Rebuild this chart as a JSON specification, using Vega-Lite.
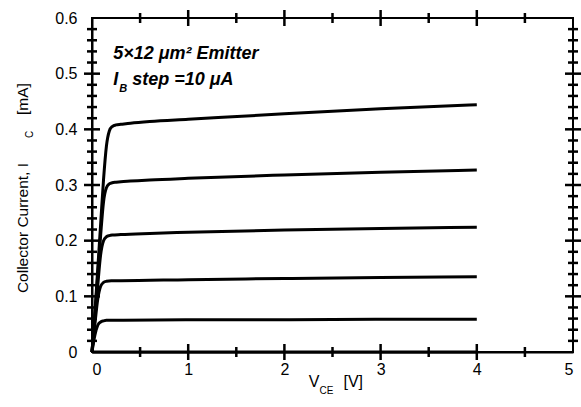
{
  "$schema": "https://vega.github.io/schema/vega-lite/v6.json",
  "width": 481,
  "height": 334,
  "autosize": "none",
  "padding": {"left": 92, "top": 18, "right": 8, "bottom": 55},
  "background": "white",
  "config": {
    "view": {"stroke": "black", "strokeWidth": 2},
    "font": "Liberation Sans",
    "axis": {
      "domainColor": "black",
      "domainWidth": 2,
      "ticks": false,
      "grid": false,
      "labelOverlap": false,
      "labelColor": "black",
      "labelFont": "Liberation Sans",
      "labelFontSize": 16,
      "title": null
    }
  },
  "datasets": {
    "curves": [
      {"ib": 0, "v": 0, "i": 0}, {"ib": 0, "v": 4, "i": 0},
      {"ib": 10, "v": 0, "i": 0}, {"ib": 10, "v": 0.03, "i": 0.03}, {"ib": 10, "v": 0.06, "i": 0.048}, {"ib": 10, "v": 0.09, "i": 0.054}, {"ib": 10, "v": 0.12, "i": 0.056}, {"ib": 10, "v": 0.15, "i": 0.057}, {"ib": 10, "v": 0.3, "i": 0.057}, {"ib": 10, "v": 1, "i": 0.058}, {"ib": 10, "v": 2, "i": 0.058}, {"ib": 10, "v": 3, "i": 0.059}, {"ib": 10, "v": 4, "i": 0.059},
      {"ib": 20, "v": 0, "i": 0}, {"ib": 20, "v": 0.03, "i": 0.05}, {"ib": 20, "v": 0.06, "i": 0.095}, {"ib": 20, "v": 0.09, "i": 0.118}, {"ib": 20, "v": 0.12, "i": 0.125}, {"ib": 20, "v": 0.15, "i": 0.127}, {"ib": 20, "v": 0.2, "i": 0.128}, {"ib": 20, "v": 0.3, "i": 0.128}, {"ib": 20, "v": 1, "i": 0.13}, {"ib": 20, "v": 2, "i": 0.132}, {"ib": 20, "v": 3, "i": 0.134}, {"ib": 20, "v": 4, "i": 0.135},
      {"ib": 30, "v": 0, "i": 0}, {"ib": 30, "v": 0.03, "i": 0.06}, {"ib": 30, "v": 0.06, "i": 0.12}, {"ib": 30, "v": 0.09, "i": 0.175}, {"ib": 30, "v": 0.12, "i": 0.2}, {"ib": 30, "v": 0.15, "i": 0.207}, {"ib": 30, "v": 0.18, "i": 0.209}, {"ib": 30, "v": 0.21, "i": 0.21}, {"ib": 30, "v": 0.3, "i": 0.211}, {"ib": 30, "v": 0.6, "i": 0.213}, {"ib": 30, "v": 1, "i": 0.215}, {"ib": 30, "v": 2, "i": 0.219}, {"ib": 30, "v": 3, "i": 0.222}, {"ib": 30, "v": 4, "i": 0.224},
      {"ib": 40, "v": 0, "i": 0}, {"ib": 40, "v": 0.03, "i": 0.065}, {"ib": 40, "v": 0.06, "i": 0.14}, {"ib": 40, "v": 0.09, "i": 0.21}, {"ib": 40, "v": 0.12, "i": 0.27}, {"ib": 40, "v": 0.15, "i": 0.295}, {"ib": 40, "v": 0.18, "i": 0.302}, {"ib": 40, "v": 0.21, "i": 0.304}, {"ib": 40, "v": 0.25, "i": 0.305}, {"ib": 40, "v": 0.3, "i": 0.306}, {"ib": 40, "v": 0.4, "i": 0.307}, {"ib": 40, "v": 0.6, "i": 0.309}, {"ib": 40, "v": 1, "i": 0.312}, {"ib": 40, "v": 2, "i": 0.318}, {"ib": 40, "v": 3, "i": 0.323}, {"ib": 40, "v": 4, "i": 0.327},
      {"ib": 50, "v": 0, "i": 0}, {"ib": 50, "v": 0.03, "i": 0.07}, {"ib": 50, "v": 0.06, "i": 0.15}, {"ib": 50, "v": 0.09, "i": 0.23}, {"ib": 50, "v": 0.12, "i": 0.31}, {"ib": 50, "v": 0.15, "i": 0.37}, {"ib": 50, "v": 0.18, "i": 0.397}, {"ib": 50, "v": 0.21, "i": 0.405}, {"ib": 50, "v": 0.25, "i": 0.408}, {"ib": 50, "v": 0.3, "i": 0.409}, {"ib": 50, "v": 0.4, "i": 0.411}, {"ib": 50, "v": 0.6, "i": 0.414}, {"ib": 50, "v": 1, "i": 0.418}, {"ib": 50, "v": 2, "i": 0.428}, {"ib": 50, "v": 3, "i": 0.437}, {"ib": 50, "v": 4, "i": 0.444}
    ],
    "vMajor": [{"t": 1}, {"t": 2}, {"t": 3}, {"t": 4}],
    "vMinor": [{"t": 0.5}, {"t": 1.5}, {"t": 2.5}, {"t": 3.5}, {"t": 4.5}],
    "iMajor": [{"t": 0.1}, {"t": 0.2}, {"t": 0.3}, {"t": 0.4}, {"t": 0.5}],
    "iMinor": [
      {"t": 0.02}, {"t": 0.04}, {"t": 0.06}, {"t": 0.08}, {"t": 0.12}, {"t": 0.14}, {"t": 0.16}, {"t": 0.18},
      {"t": 0.22}, {"t": 0.24}, {"t": 0.26}, {"t": 0.28}, {"t": 0.32}, {"t": 0.34}, {"t": 0.36}, {"t": 0.38},
      {"t": 0.42}, {"t": 0.44}, {"t": 0.46}, {"t": 0.48}, {"t": 0.52}, {"t": 0.54}, {"t": 0.56}, {"t": 0.58}
    ],
    "one": [{}]
  },
  "layer": [
    {
      "data": {"name": "curves"},
      "mark": {"type": "line", "color": "black", "strokeWidth": 3, "interpolate": "monotone"},
      "encoding": {
        "x": {
          "field": "v", "type": "quantitative",
          "scale": {"domain": [0, 5], "nice": false},
          "axis": {"orient": "bottom", "values": [0, 1, 2, 3, 4, 5], "format": "d", "labelPadding": 9}
        },
        "y": {
          "field": "i", "type": "quantitative",
          "scale": {"domain": [0, 0.6], "nice": false},
          "axis": {
            "orient": "left", "values": [0, 0.1, 0.2, 0.3, 0.4, 0.5, 0.6],
            "labelExpr": "datum.value == 0 ? '0' : format(datum.value, '.1f')",
            "labelPadding": 15
          }
        },
        "detail": {"field": "ib"}
      }
    },
    {
      "data": {"name": "vMajor"},
      "mark": {"type": "tick", "orient": "vertical", "color": "black", "opacity": 1, "size": 16, "thickness": 2.5},
      "encoding": {"x": {"field": "t", "type": "quantitative"}, "y": {"datum": 0, "type": "quantitative"}}
    },
    {
      "data": {"name": "vMajor"},
      "mark": {"type": "tick", "orient": "vertical", "color": "black", "opacity": 1, "size": 16, "thickness": 2.5},
      "encoding": {"x": {"field": "t", "type": "quantitative"}, "y": {"datum": 0.6, "type": "quantitative"}}
    },
    {
      "data": {"name": "vMinor"},
      "mark": {"type": "tick", "orient": "vertical", "color": "black", "opacity": 1, "size": 10, "thickness": 2.5},
      "encoding": {"x": {"field": "t", "type": "quantitative"}, "y": {"datum": 0, "type": "quantitative"}}
    },
    {
      "data": {"name": "vMinor"},
      "mark": {"type": "tick", "orient": "vertical", "color": "black", "opacity": 1, "size": 10, "thickness": 2.5},
      "encoding": {"x": {"field": "t", "type": "quantitative"}, "y": {"datum": 0.6, "type": "quantitative"}}
    },
    {
      "data": {"name": "iMajor"},
      "mark": {"type": "tick", "orient": "horizontal", "color": "black", "opacity": 1, "size": 16, "thickness": 2.5},
      "encoding": {"y": {"field": "t", "type": "quantitative"}, "x": {"datum": 0, "type": "quantitative"}}
    },
    {
      "data": {"name": "iMajor"},
      "mark": {"type": "tick", "orient": "horizontal", "color": "black", "opacity": 1, "size": 16, "thickness": 2.5},
      "encoding": {"y": {"field": "t", "type": "quantitative"}, "x": {"datum": 5, "type": "quantitative"}}
    },
    {
      "data": {"name": "iMinor"},
      "mark": {"type": "tick", "orient": "horizontal", "color": "black", "opacity": 1, "size": 10, "thickness": 2.5},
      "encoding": {"y": {"field": "t", "type": "quantitative"}, "x": {"datum": 0, "type": "quantitative"}}
    },
    {
      "data": {"name": "iMinor"},
      "mark": {"type": "tick", "orient": "horizontal", "color": "black", "opacity": 1, "size": 10, "thickness": 2.5},
      "encoding": {"y": {"field": "t", "type": "quantitative"}, "x": {"datum": 5, "type": "quantitative"}}
    },
    {
      "data": {"name": "one"},
      "mark": {"type": "text", "font": "Liberation Sans", "fontSize": 18, "fontWeight": "bold", "fontStyle": "italic", "align": "left", "baseline": "alphabetic", "color": "black"},
      "encoding": {
        "x": {"datum": 0.22, "type": "quantitative"},
        "y": {"datum": 0.526, "type": "quantitative"},
        "text": {"value": "5×12 μm² Emitter"}
      }
    },
    {
      "data": {"name": "one"},
      "mark": {"type": "text", "font": "Liberation Sans", "fontSize": 18, "fontWeight": "bold", "fontStyle": "italic", "align": "left", "baseline": "alphabetic", "color": "black"},
      "encoding": {
        "x": {"datum": 0.22, "type": "quantitative"},
        "y": {"datum": 0.48, "type": "quantitative"},
        "text": {"value": "I"}
      }
    },
    {
      "data": {"name": "one"},
      "mark": {"type": "text", "font": "Liberation Sans", "fontSize": 11, "fontWeight": "bold", "fontStyle": "italic", "align": "left", "baseline": "alphabetic", "color": "black", "dx": 6, "dy": 7},
      "encoding": {
        "x": {"datum": 0.22, "type": "quantitative"},
        "y": {"datum": 0.48, "type": "quantitative"},
        "text": {"value": "B"}
      }
    },
    {
      "data": {"name": "one"},
      "mark": {"type": "text", "font": "Liberation Sans", "fontSize": 18, "fontWeight": "bold", "fontStyle": "italic", "align": "left", "baseline": "alphabetic", "color": "black", "dx": 19},
      "encoding": {
        "x": {"datum": 0.22, "type": "quantitative"},
        "y": {"datum": 0.48, "type": "quantitative"},
        "text": {"value": "step =10 μA"}
      }
    },
    {
      "data": {"name": "one"},
      "mark": {"type": "text", "font": "Liberation Sans", "fontSize": 16, "align": "right", "baseline": "alphabetic", "color": "black", "dx": -13},
      "encoding": {
        "x": {"datum": 2.5, "type": "quantitative"},
        "y": {"datum": -0.063, "type": "quantitative"},
        "text": {"value": "V"}
      }
    },
    {
      "data": {"name": "one"},
      "mark": {"type": "text", "font": "Liberation Sans", "fontSize": 10, "align": "left", "baseline": "alphabetic", "color": "black", "dx": -13, "dy": 7},
      "encoding": {
        "x": {"datum": 2.5, "type": "quantitative"},
        "y": {"datum": -0.063, "type": "quantitative"},
        "text": {"value": "CE"}
      }
    },
    {
      "data": {"name": "one"},
      "mark": {"type": "text", "font": "Liberation Sans", "fontSize": 16, "align": "left", "baseline": "alphabetic", "color": "black", "dx": 11},
      "encoding": {
        "x": {"datum": 2.5, "type": "quantitative"},
        "y": {"datum": -0.063, "type": "quantitative"},
        "text": {"value": "[V]"}
      }
    },
    {
      "data": {"name": "one"},
      "mark": {"type": "text", "font": "Liberation Sans", "fontSize": 15.5, "align": "right", "baseline": "alphabetic", "color": "black", "angle": 270},
      "encoding": {
        "x": {"datum": -0.665, "type": "quantitative"},
        "y": {"datum": 0.3395, "type": "quantitative"},
        "text": {"value": "Collector Current, I"}
      }
    },
    {
      "data": {"name": "one"},
      "mark": {"type": "text", "font": "Liberation Sans", "fontSize": 10, "align": "left", "baseline": "alphabetic", "color": "black", "angle": 270, "dx": 25, "dy": 5},
      "encoding": {
        "x": {"datum": -0.665, "type": "quantitative"},
        "y": {"datum": 0.3395, "type": "quantitative"},
        "text": {"value": "C"}
      }
    },
    {
      "data": {"name": "one"},
      "mark": {"type": "text", "font": "Liberation Sans", "fontSize": 15.5, "align": "left", "baseline": "alphabetic", "color": "black", "angle": 270, "dx": 48},
      "encoding": {
        "x": {"datum": -0.665, "type": "quantitative"},
        "y": {"datum": 0.3395, "type": "quantitative"},
        "text": {"value": "[mA]"}
      }
    }
  ]
}
